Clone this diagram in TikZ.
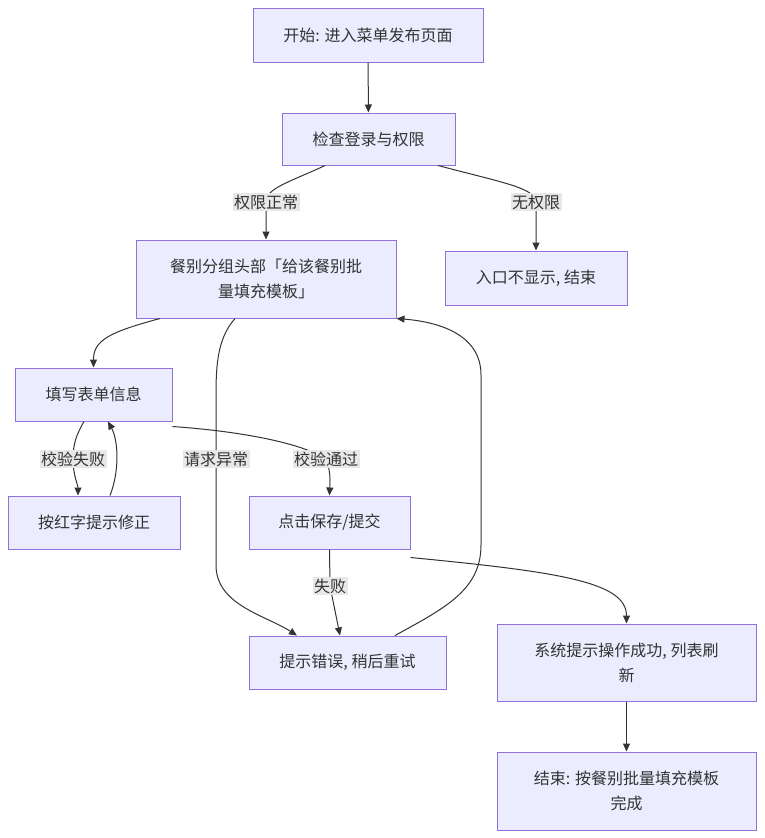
\documentclass[tikz,border=0pt]{standalone}
\usepackage{fontspec}
\setmainfont{Noto Sans CJK SC}
\usepackage{xcolor}
\usetikzlibrary{arrows.meta,positioning}

\definecolor{nodefill}{HTML}{ECECFF}
\definecolor{nodeline}{HTML}{9370DB}
\definecolor{edgeline}{HTML}{333333}
\definecolor{labelbg}{HTML}{E8E8E8}

\begin{document}
\begin{tikzpicture}[
  x=1pt, y=-1pt,
  font=\fontsize{16}{25}\selectfont,
  >={Triangle[length=8pt,width=7pt]},
  box/.style={draw=nodeline, fill=nodefill, line width=1pt, align=center, text=edgeline, inner sep=0pt},
  edge/.style={->, draw=edgeline, line width=1pt},
  lbl/.style={fill=labelbg, text=edgeline, inner sep=1.5pt, font=\fontsize{16}{18}\selectfont}
]
\useasboundingbox (0,0) rectangle (765,838);

\node[box, minimum width=230pt, minimum height=54pt] (start) at (368,35) {开始: 进入菜单发布页面};
\node[box, minimum width=173pt, minimum height=52pt] (check) at (368.5,139) {检查登录与权限};
\node[box, minimum width=260pt, minimum height=78pt] (group) at (266,279) {餐别分组头部「给该餐别批\\量填充模板」};
\node[box, minimum width=182pt, minimum height=54pt] (noperm) at (536,278) {入口不显示, 结束};
\node[box, minimum width=157pt, minimum height=53pt] (form) at (93.5,394.5) {填写表单信息};
\node[box, minimum width=172pt, minimum height=53pt] (fix) at (94,522.5) {按红字提示修正};
\node[box, minimum width=161pt, minimum height=53pt] (save) at (329.5,522.5) {点击保存/提交};
\node[box, minimum width=197pt, minimum height=53pt] (fail) at (347.5,662.5) {提示错误, 稍后重试};
\node[box, minimum width=259pt, minimum height=77pt] (success) at (626.5,662.5) {系统提示操作成功, 列表刷\\新};
\node[box, minimum width=259pt, minimum height=78pt] (finish) at (626.5,791) {结束: 按餐别批量填充模板\\完成};

\draw[edge] (start) -- (check);
\draw[edge] ([xshift=-43.5pt]check.south) .. controls (290,182) and (266,188) .. (266,202)
  node[lbl] {权限正常} -- (group.north);
\draw[edge] ([xshift=69.5pt]check.south) .. controls (500,182) and (536,188) .. (536,202)
  node[lbl] {无权限} -- (noperm.north);
\draw[edge] ([xshift=-106pt]group.south) .. controls (110,332) and (93.5,340) .. (form.north);
\draw[edge] ([xshift=-31pt]group.south) .. controls (216,340) and (216,370) .. (216,400)
  -- (216,459) node[lbl] {请求异常} -- (216,565)
  .. controls (216,605) and (265,615) .. ([xshift=-50.5pt]fail.north);
\draw[edge] ([xshift=47.5pt]fail.north) .. controls (445,608) and (481,590) .. (481,545)
  -- (481,375) .. controls (481,335) and (440,322) .. (group.south east);
\draw[edge] ([xshift=-9.5pt]form.south) .. controls (76,435) and (73,445) .. (73,459)
  node[lbl] {校验失败} .. controls (73,475) and (78,485) .. ([xshift=-16pt]fix.north);
\draw[edge] ([xshift=16pt]fix.north) .. controls (120,470) and (118,440) .. ([xshift=14.5pt]form.south);
\draw[edge] ([yshift=-5pt]form.south east) .. controls (250,432) and (305,445) .. (326,459)
  node[lbl] {校验通过} .. controls (331,472) and (330,482) .. (save.north);
\draw[edge] (save.south) -- (330,586) node[lbl] {失败} -- ([xshift=-7.5pt]fail.north);
\draw[edge] ([yshift=-8pt]save.south east) .. controls (560,572) and (626.5,582) .. (success.north);
\draw[edge] (success) -- (finish);
\end{tikzpicture}
\end{document}
